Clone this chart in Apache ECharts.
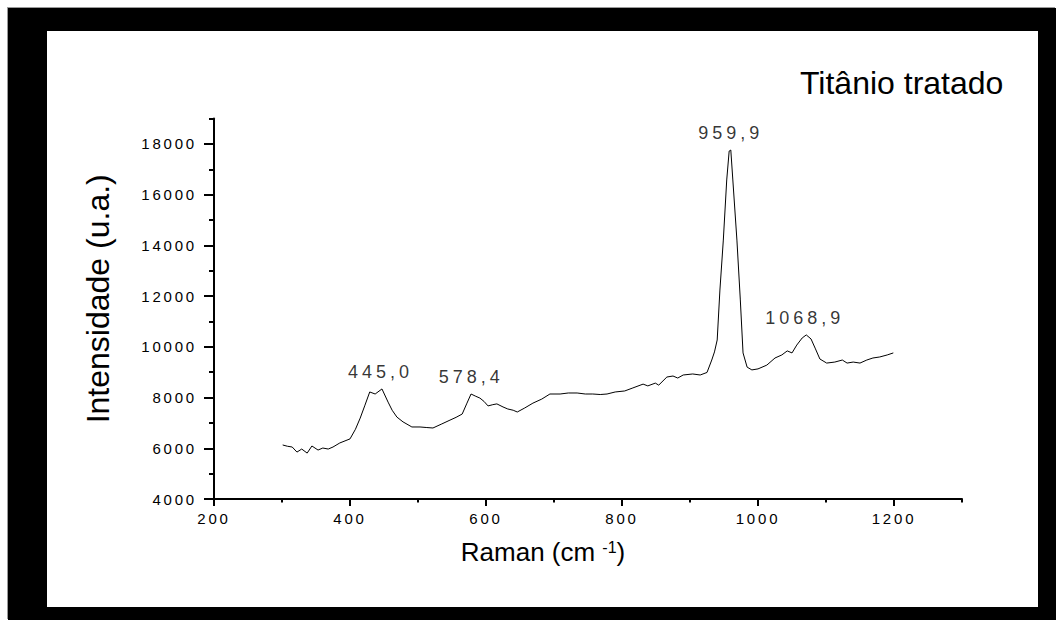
<!DOCTYPE html>
<html><head><meta charset="utf-8">
<script src="https://cdn.jsdelivr.net/npm/echarts@6/dist/echarts.min.js"></script>
<style>
html,body{margin:0;padding:0;background:#fff;}
#wrap{position:relative;width:1056px;height:620px;overflow:hidden;}
#outer{position:absolute;left:8px;top:8px;width:1048px;height:612px;background:#000;box-shadow:-1px -1px 0 #9a9a9a;}
#inner{position:absolute;left:47px;top:31px;width:991px;height:576px;background:#fff;}
#chart{position:absolute;left:0;top:0;width:1056px;height:620px;}
text[style*="lstick"]{letter-spacing:2.8px;}
text[style*="lsann"]{letter-spacing:4px;}
</style></head>
<body>
<div id="wrap"><div id="outer"></div><div id="inner"></div><div id="chart"></div></div>
<script>
// Raman shift (cm-1)
var ramanShift = [301,308,315,322,329,337,344,353,360,368,375,385,400,408,415,422,429,437,447,456,
  462,469,478,491,503,512,522,535,547,556,565,572,578,585,591,597,603,610,616,625,
  632,640,646,657,669,682,694,709,721,734,746,757,768,778,790,804,816,831,838,849,
  854,866,875,882,890,904,915,925,932,936,940,944,949,954,957.6,960,963,969,974,978,
  984,991,1000,1013,1025,1035,1043,1050,1057,1065,1071,1078,1084,1091,1101,1113,1124,1131,1140,1150,
  1160,1169,1179,1190,1199];
// Intensity (u.a.)
var intensity = [6130,6080,6050,5850,5970,5810,6090,5930,6010,5970,6050,6210,6370,6750,7190,7700,8220,8140,8340,7820,
  7500,7230,7040,6840,6840,6820,6800,6960,7110,7220,7350,7780,8140,8050,7980,7850,7670,7720,7750,7630,
  7550,7500,7430,7590,7780,7940,8140,8140,8180,8180,8140,8140,8120,8140,8220,8260,8380,8530,8460,8570,
  8490,8810,8850,8770,8890,8930,8890,8990,9480,9800,10270,12240,14210,16580,17720,17760,16580,14210,11850,9760,
  9200,9090,9130,9280,9560,9680,9840,9760,10070,10350,10470,10310,9950,9520,9360,9400,9480,9360,9400,9360,
  9480,9560,9600,9680,9760];
// Peak annotations
var peakShift = [445.0, 578.4, 959.9, 1068.9];
var peakLabels = ['445,0', '578,4', '959,9', '1068,9'];
// Tick labels
var xTickLabels = [200, 400, 600, 800, 1000, 1200];
var yTickLabels = [4000, 6000, 8000, 10000, 12000, 14000, 16000, 18000];
var titleText = 'Titânio tratado';
var xName = 'Raman (cm {sup|-1})';
var yName = 'Intensidade (u.a.)';

var lineData = ramanShift.map(function (x, i) { return [x, intensity[i]]; });
function localMax(p) {
  var m = -Infinity;
  ramanShift.forEach(function (x, i) { if (Math.abs(x - p) <= 12 && intensity[i] > m) m = intensity[i]; });
  return m;
}
var annData = peakShift.map(function (p, i) { return { name: peakLabels[i], value: [p, localMax(p)] }; });

var TICKFONT = 'Liberation Sans, lstick';
var ANNFONT = 'Liberation Sans, lsann';
var FONT = 'Liberation Sans';

var chart = echarts.init(document.getElementById('chart'), null, { renderer: 'svg' });
chart.setOption({
  animation: false,
  backgroundColor: 'transparent',
  title: {
    text: titleText, left: 795, top: 62,
    textStyle: { fontFamily: FONT, fontSize: 32, fontWeight: 'normal', color: '#000' }
  },
  grid: { left: 214, right: 94, top: 118.6, bottom: 121 },
  xAxis: [{
    type: 'value', min: 200, max: 1300, interval: 100, position: 'bottom',
    axisLine: { onZero: false, lineStyle: { color: '#000', width: 2 } },
    axisTick: { length: 7, customValues: xTickLabels, lineStyle: { color: '#000', width: 2 } },
    axisLabel: { customValues: xTickLabels, formatter: function (v) { return String(v); },
      margin: 12, fontSize: 15, fontFamily: TICKFONT, color: '#000' },
    splitLine: { show: false },
    name: xName, nameLocation: 'middle', nameGap: 40,
    nameTextStyle: { fontSize: 26, fontFamily: FONT, color: '#000', padding: [0, 90, 0, 0],
      rich: { sup: { fontSize: 16, fontFamily: FONT, color: '#000', verticalAlign: 'top' } } }
  }, {
    type: 'value', min: 200, max: 1300, interval: 100, position: 'bottom',
    axisLine: { show: false, onZero: false },
    axisTick: { length: 3.5, lineStyle: { color: '#000', width: 2 } },
    axisLabel: { show: false }, splitLine: { show: false }
  }],
  yAxis: [{
    type: 'value', min: 4000, max: 19000, interval: 1000, position: 'left',
    axisLine: { show: true, onZero: false, lineStyle: { color: '#000', width: 2 } },
    axisTick: { show: true, length: 10, customValues: yTickLabels, lineStyle: { color: '#000', width: 2 } },
    axisLabel: { customValues: yTickLabels, formatter: function (v) { return String(v); },
      margin: 17, fontSize: 15, fontFamily: TICKFONT, color: '#000' },
    splitLine: { show: false },
    name: yName, nameLocation: 'middle', nameGap: 100,
    nameTextStyle: { fontSize: 32, fontFamily: FONT, color: '#000', padding: [0, 0, 0, 20] }
  }, {
    type: 'value', min: 4000, max: 19000, interval: 1000, position: 'left',
    axisLine: { show: false, onZero: false },
    axisTick: { show: true, length: 5, lineStyle: { color: '#000', width: 2 } },
    axisLabel: { show: false }, splitLine: { show: false }
  }],
  series: [{
    type: 'line', xAxisIndex: 0, yAxisIndex: 0, data: lineData,
    showSymbol: false, symbol: 'none', smooth: false,
    lineStyle: { color: '#000', width: 1 }, silent: true
  }, {
    type: 'scatter', xAxisIndex: 0, yAxisIndex: 0, data: annData,
    symbolSize: 0, silent: true,
    label: { show: true, position: 'top', distance: 8, formatter: function (p) { return p.name; },
      fontSize: 18, fontFamily: ANNFONT, color: '#000' }
  }]
});
</script>
</body></html>
